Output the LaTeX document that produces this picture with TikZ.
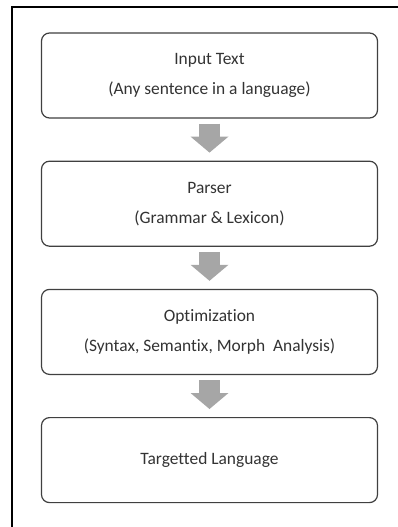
\documentclass[tikz,border=0pt]{standalone}
\usepackage{fontspec}
\setmainfont[Ligatures=NoCommon]{Carlito}
\usepackage{xcolor}
\definecolor{flDark}{HTML}{404040}
\definecolor{flText}{HTML}{333333}
\definecolor{flGray}{HTML}{A6A6A6}
\usepackage{tikz}
\usetikzlibrary{arrows.meta, positioning, calc}

\begin{document}
\begin{tikzpicture}[
        x=1pt, y=1pt,
        node distance=42pt,
        box/.style={rectangle, rounded corners=8pt, draw=flDark, line width=1.2pt, fill=white, minimum height=85pt, minimum width=336pt, align=center, text=flText, font=\fontsize{17.4}{30}\selectfont},
        arr/.style={flGray, line width=21pt, -{Triangle[width=38pt, length=16pt, line width=0pt]}, shorten <=5pt, shorten >=8pt},
    ]
        \useasboundingbox (0,0) rectangle (398,-527);

        % Frame
        \draw[line width=2pt, black] (12,-527) -- (12,-7) -- (398,-7);

        % Steps
        \node[box] (input) at (209.5,-75.5) {Input Text\\(Any sentence in a language)};
        \node[box, below=of input]  (parser) {Parser\\(Grammar \& Lexicon)};
        \node[box, below=of parser] (optim)  {Optimization\\(Syntax, Semantix, Morph~ Analysis)};
        \node[box, below=of optim]  (target) {Targetted Language};

        % Arrows
        \draw[arr] (input) -- (parser);
        \draw[arr] (parser) -- (optim);
        \draw[arr] (optim) -- (target);

    \end{tikzpicture}
\end{document}
